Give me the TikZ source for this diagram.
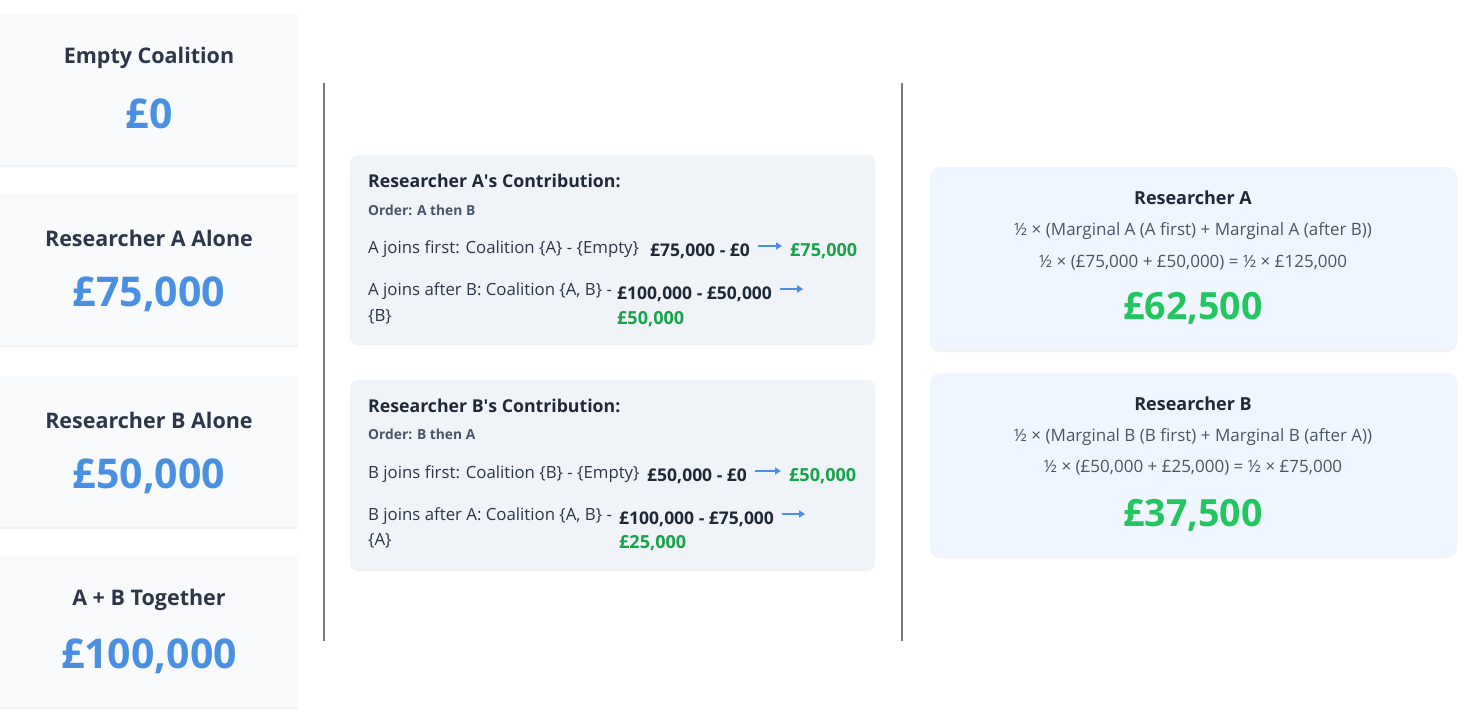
\documentclass[tikz,border=0pt]{standalone}
\usepackage{fontspec}
\setmainfont{Open Sans}
\usetikzlibrary{arrows.meta,shadows,positioning}
\definecolor{cardgray}{HTML}{F8FAFC}
\definecolor{cardslate}{HTML}{F0F3F8}
\definecolor{cardblue}{HTML}{EFF6FF}
\definecolor{ink}{HTML}{2D3748}
\definecolor{inkdark}{HTML}{1F2937}
\definecolor{inksoft}{HTML}{4A5568}
\definecolor{valblue}{HTML}{4A90E2}
\definecolor{valgreen}{HTML}{16A34A}
\definecolor{biggreen}{HTML}{22C55E}
\newcommand{\fs}[1]{\fontsize{#1}{#1}\selectfont}

\begin{document}
\begin{tikzpicture}[x=1pt,y=-1pt,
  cardshadow/.style={drop shadow={shadow xshift=0pt,shadow yshift=-2pt,opacity=.05,fill=black}},
  leftcard/.style={fill=cardgray,cardshadow},
  midcard/.style={fill=cardslate,rounded corners=8pt,cardshadow},
  rightcard/.style={fill=cardblue,rounded corners=10pt,cardshadow},
  ttl/.style={text=ink,font=\fs{21.5}\bfseries},
  bigval/.style={text=valblue,font=\fs{41}\bfseries},
  headtxt/.style={anchor=west,text=inkdark,font=\fs{17.7}\bfseries,inner sep=0pt},
  ordertxt/.style={anchor=west,text=inksoft,font=\fs{13.8}\bfseries,inner sep=0pt},
  rowtxt/.style={anchor=west,text=ink,font=\fs{16.8},inner sep=0pt},
  diff/.style={anchor=west,text=inkdark,font=\fs{17.5}\bfseries,inner sep=0pt},
  res/.style={anchor=west,text=valgreen,font=\fs{18}\bfseries,inner sep=0pt},
  arr/.style={draw=valblue,line width=2pt,-{Triangle[length=6pt,width=7pt]}},
  pname/.style={text=inkdark,font=\fs{18}\bfseries},
  formula/.style={text=inksoft,font=\fs{17}},
  shap/.style={text=biggreen,font=\fs{37.5}\bfseries},
  divider/.style={draw=gray!95!black,line width=2pt}]
\useasboundingbox (0,0) rectangle (1472,722);

% coalition values
\foreach \t/\ttltext/\val/\nm in {14/{Empty Coalition}/{£0}/ce,
    194/{Researcher A Alone}/{£75,000}/ca,
    376/{Researcher B Alone}/{£50,000}/cb,
    556/{A + B Together}/{£100,000}/cab}{
  \fill[leftcard] (0,\t) rectangle (298,\t+151);
  \node[ttl] (\nm-t) at (149,\t+44) {\ttltext};
  \node[bigval] (\nm-v) at (149,\t+100) {\val};
}

\draw[divider] (324,83) -- (324,641);
\draw[divider] (902,83) -- (902,641);

% marginal contributions
\fill[midcard] (350,155) rectangle (875,343);
\node[headtxt] (ha) at (368,181) {Researcher A\textquotesingle s Contribution:};
\node[ordertxt] (oa) at (368,210) {Order: A then B};
\node[rowtxt] (a1) at (368,249) {A joins first: Coalition \{A\} - \{Empty\}};
\node[diff] (a1d) at (650,251) {£75,000 - £0};
\node[res] (a1r) at (790,251) {£75,000};
\draw[arr] ([xshift=8pt,yshift=5pt]a1d.east) -- ([xshift=-8pt,yshift=5pt]a1r.west);
\node[rowtxt] (a2) at (368,291) {A joins after B: Coalition \{A, B\} -};
\node[rowtxt] (a2b) at (368,317) {\{B\}};
\node[diff] (a2d) at (617,294) {£100,000 - £50,000};
\coordinate[right=31pt of a2d.east] (a2e);
\draw[arr] ([xshift=8pt,yshift=5pt]a2d.east) -- ([yshift=5pt]a2e);
\node[res] (a2r) at (617,319) {£50,000};

\fill[midcard] (350,380) rectangle (875,569);
\node[headtxt] (hb) at (368,406) {Researcher B\textquotesingle s Contribution:};
\node[ordertxt] (ob) at (368,434) {Order: B then A};
\node[rowtxt] (b1) at (368,474) {B joins first: Coalition \{B\} - \{Empty\}};
\node[diff] (b1d) at (647,476) {£50,000 - £0};
\node[res] (b1r) at (789,476) {£50,000};
\draw[arr] ([xshift=8pt,yshift=5pt]b1d.east) -- ([xshift=-8pt,yshift=5pt]b1r.west);
\node[rowtxt] (b2) at (368,516) {B joins after A: Coalition \{A, B\} -};
\node[rowtxt] (b2b) at (368,541) {\{A\}};
\node[diff] (b2d) at (619,519) {£100,000 - £75,000};
\coordinate[right=31pt of b2d.east] (b2e);
\draw[arr] ([xshift=8pt,yshift=5pt]b2d.east) -- ([yshift=5pt]b2e);
\node[res] (b2r) at (619,543) {£25,000};

% shapley values
\fill[rightcard] (930,167) rectangle (1457,350);
\node[pname] (sa) at (1193,198) {Researcher A};
\node[formula] (sa1) at (1193,231) {½ × (Marginal A (A first) + Marginal A (after B))};
\node[formula] (sa2) at (1193,263) {½ × (£75,000 + £50,000) = ½ × £125,000};
\node[shap] (sav) at (1193,308) {£62,500};

\fill[rightcard] (930,373) rectangle (1457,556);
\node[pname] (sb) at (1193,404) {Researcher B};
\node[formula] (sb1) at (1193,437) {½ × (Marginal B (B first) + Marginal B (after A))};
\node[formula] (sb2) at (1193,468) {½ × (£50,000 + £25,000) = ½ × £75,000};
\node[shap] (sbv) at (1193,515) {£37,500};
\end{tikzpicture}
\end{document}
